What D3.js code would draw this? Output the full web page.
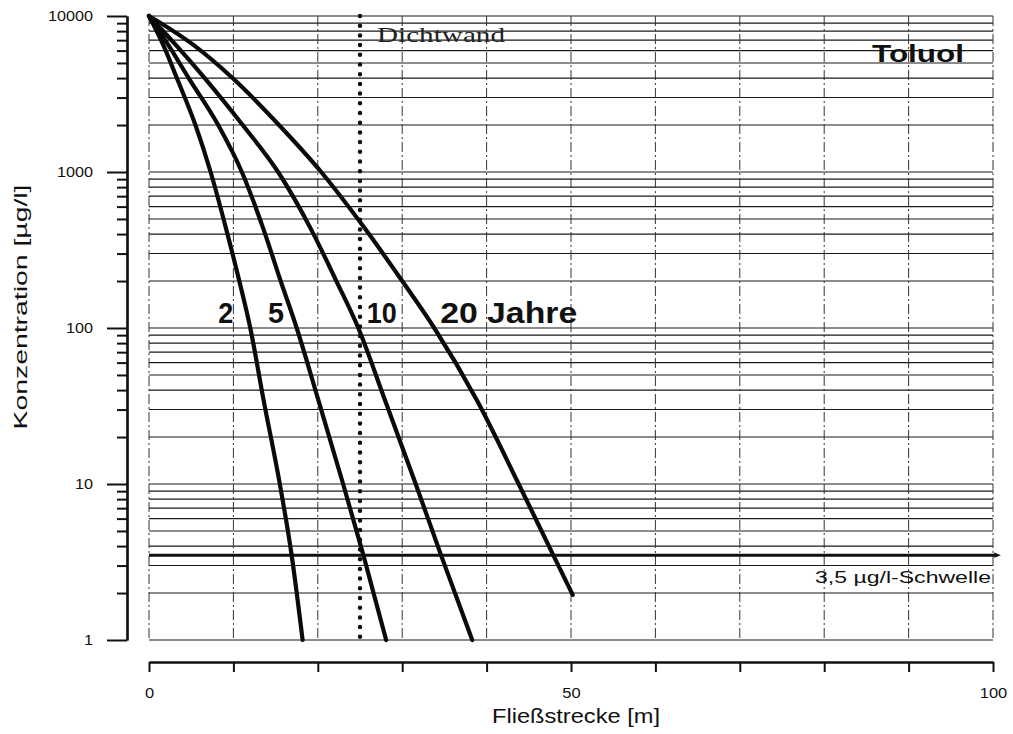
<!DOCTYPE html>
<html>
<head>
<meta charset="utf-8">
<script src="https://cdn.jsdelivr.net/npm/d3@7"></script>
<style>
  body { margin: 0; background: #fff; }
  svg { display: block; }
  text { font-family: "Liberation Sans", Arial, Helvetica, sans-serif; fill: #111; }
</style>
</head>
<body>
<svg id="chart" width="1013" height="734"></svg>
<script>
// Toluol: concentration along the flow path after 2, 5, 10 and 20 years
const years = [2, 5, 10, 20];

// distance [m] / concentration [µg/l] for each time step
const dist2  = [0, 1.7, 3.3, 5.5, 7.3, 9.1, 10.7, 12.0, 13.6, 15.5, 16.9, 18.2];
const conc2  = [10000, 6500, 4000, 2000, 1000, 440, 200, 100, 34, 10, 3.5, 1];

const dist5  = [0, 2.3, 4.7, 8.2, 11.0, 13.5, 15.6, 17.5, 20.1, 23.0, 25.4, 28.1];
const conc5  = [10000, 6500, 4000, 2000, 1000, 440, 200, 100, 34, 10, 3.5, 1];

const dist10 = [0, 3.2, 6.6, 11.1, 15.3, 19.1, 22.2, 24.8, 28.0, 31.6, 34.6, 38.3];
const conc10 = [10000, 6500, 4000, 2000, 1000, 440, 200, 100, 34, 10, 3.5, 1];

const dist20 = [0, 5.3, 9.9, 15.4, 20.4, 25.5, 30.0, 33.8, 38.9, 43.8, 47.9, 50.2];
const conc20 = [10000, 6500, 4000, 2000, 1000, 440, 200, 100, 34, 10, 3.5, 1.95];

// curve labels
const yearLabels    = ["2", "5", "10", "20 Jahre"];
const yearLabelDist = [8.2, 14.1, 25.8, 34.5];
const yearLabelConc = 108;

// axes
const xDomain       = [0, 100];
const xTickValues   = [0, 10, 20, 30, 40, 50, 60, 70, 80, 90, 100];
const xTickLabels   = { 0: "0", 50: "50", 100: "100" };
const yDomain       = [1, 10000];
const yMajorTicks   = [1, 10, 100, 1000, 10000];
const yMajorLabels  = ["1", "10", "100", "1000", "10000"];

// annotations
const wallDistance   = 25;      // Dichtwand
const thresholdValue = 3.5;     // 3,5 µg/l-Schwelle

const svg = d3.select("#chart");

const x = d3.scaleLinear().domain(xDomain).range([149, 993]);
const y = d3.scaleLog().domain(yDomain).range([640, 16]);

const series = [
  { year: years[0], dist: dist2,  conc: conc2 },
  { year: years[1], dist: dist5,  conc: conc5 },
  { year: years[2], dist: dist10, conc: conc10 },
  { year: years[3], dist: dist20, conc: conc20 }
];

// stretch text to a given width
function fit(sel, w) {
  sel.attr("textLength", w).attr("lengthAdjust", "spacingAndGlyphs");
  return sel;
}
function stretch(sel, f) {
  sel.each(function () {
    const l = this.getComputedTextLength();
    d3.select(this).attr("textLength", l * f).attr("lengthAdjust", "spacingAndGlyphs");
  });
}

// ---- horizontal log grid ----
const grid = svg.append("g");
grid.selectAll("line.h")
  .data(y.ticks())
  .join("line")
  .attr("x1", x(0)).attr("x2", x(100))
  .attr("y1", d => y(d)).attr("y2", d => y(d))
  .attr("stroke", "#1a1a1a").attr("stroke-width", 1.1);

// ---- vertical grid (dash-dot) ----
grid.selectAll("line.v")
  .data(xTickValues)
  .join("line")
  .attr("x1", d => x(d)).attr("x2", d => x(d))
  .attr("y1", y(10000)).attr("y2", y(1))
  .attr("stroke", "#333").attr("stroke-width", 1)
  .attr("stroke-dasharray", "10,3,2,3");

// ---- threshold line ----
svg.append("defs").append("marker")
  .attr("id", "tip").attr("viewBox", "0 0 10 10")
  .attr("refX", 1).attr("refY", 5)
  .attr("markerWidth", 2.2).attr("markerHeight", 2.2)
  .attr("orient", "auto")
  .append("path").attr("d", "M0,1 L10,5 L0,9 z").attr("fill", "#111");

svg.append("line")
  .attr("x1", x(0)).attr("x2", x(100) + 2)
  .attr("y1", y(thresholdValue)).attr("y2", y(thresholdValue))
  .attr("stroke", "#111").attr("stroke-width", 3)
  .attr("marker-end", "url(#tip)");

fit(svg.append("text")
  .attr("x", 815).attr("y", y(thresholdValue) + 28)
  .attr("font-size", 17)
  .text("3,5 µg/l-Schwelle"), 176);

// ---- Dichtwand (dotted) ----
svg.append("line")
  .attr("x1", x(wallDistance)).attr("x2", x(wallDistance))
  .attr("y1", y(10000)).attr("y2", y(1))
  .attr("stroke", "#111").attr("stroke-width", 4.5)
  .attr("stroke-linecap", "round")
  .attr("stroke-dasharray", "0,9.7");

fit(svg.append("text")
  .attr("x", x(wallDistance) + 17).attr("y", 42)
  .attr("font-size", 22)
  .text("Dichtwand"), 128)
  .style("font-family", "'Liberation Serif', 'Times New Roman', serif")
  .style("fill", "#222");

// ---- concentration curves ----
const line = d3.line()
  .x(d => x(d[0]))
  .y(d => y(d[1]))
  .curve(d3.curveMonotoneX);

svg.append("g").selectAll("path")
  .data(series)
  .join("path")
  .attr("d", s => line(s.dist.map((d, i) => [d, s.conc[i]])))
  .attr("fill", "none")
  .attr("stroke", "#0a0a0a")
  .attr("stroke-width", 4.2)
  .attr("stroke-linecap", "round")
  .attr("stroke-linejoin", "round");

// ---- curve labels ----
const labelWidths = [15, 16, 30, 137];
svg.append("g").selectAll("text")
  .data(yearLabels)
  .join("text")
  .attr("x", (d, i) => x(yearLabelDist[i]))
  .attr("y", y(yearLabelConc))
  .attr("font-size", 29)
  .attr("font-weight", "bold")
  .attr("textLength", (d, i) => labelWidths[i])
  .attr("lengthAdjust", "spacingAndGlyphs")
  .text(d => d);

// ---- title ----
fit(svg.append("text")
  .attr("x", 872).attr("y", 62)
  .attr("font-size", 24)
  .attr("font-weight", "bold")
  .text("Toluol"), 92);

// ---- y axis ----
const yAxisMinor = d3.axisLeft(y)
  .tickValues(y.ticks().filter(d => !yMajorTicks.includes(d)))
  .tickSize(10).tickSizeOuter(0)
  .tickFormat("");
const yAxisMajor = d3.axisLeft(y)
  .tickValues(yMajorTicks)
  .tickSize(20).tickSizeOuter(0)
  .tickPadding(14)
  .tickFormat((d, i) => yMajorLabels[i]);

const gyMinor = svg.append("g").attr("transform", "translate(127,0)").call(yAxisMinor);
const gy = svg.append("g").attr("transform", "translate(127,0)").call(yAxisMajor);
[gyMinor, gy].forEach(g => {
  g.select(".domain").attr("stroke", "#111").attr("stroke-width", 2.2);
  g.selectAll(".tick line").attr("stroke", "#111").attr("stroke-width", 2);
});
gy.selectAll(".tick text")
  .attr("font-size", 15)
  .attr("font-family", null)
  .attr("fill", "#111");
stretch(gy.selectAll(".tick text"), 1.08);

// ---- x axis ----
const xAxis = d3.axisBottom(x)
  .tickValues(xTickValues)
  .tickSize(10).tickSizeOuter(0)
  .tickPadding(15)
  .tickFormat(d => xTickLabels[d] || "");
const gx = svg.append("g").attr("transform", "translate(0,662)").call(xAxis);
gx.select(".domain").attr("stroke", "#111").attr("stroke-width", 2.6);
gx.selectAll(".tick line").attr("stroke", "#111").attr("stroke-width", 2);
gx.selectAll(".tick text")
  .attr("font-size", 15)
  .attr("font-family", null)
  .attr("fill", "#111");
stretch(gx.selectAll(".tick text"), 1.1);

// ---- axis titles ----
fit(svg.append("text")
  .attr("transform", "translate(27,307) rotate(-90)")
  .attr("text-anchor", "middle")
  .attr("font-size", 19)
  .text("Konzentration [µg/l]"), 245);

fit(svg.append("text")
  .attr("x", 576).attr("y", 723)
  .attr("text-anchor", "middle")
  .attr("font-size", 21)
  .text("Fließstrecke [m]"), 168);
</script>
</body>
</html>
